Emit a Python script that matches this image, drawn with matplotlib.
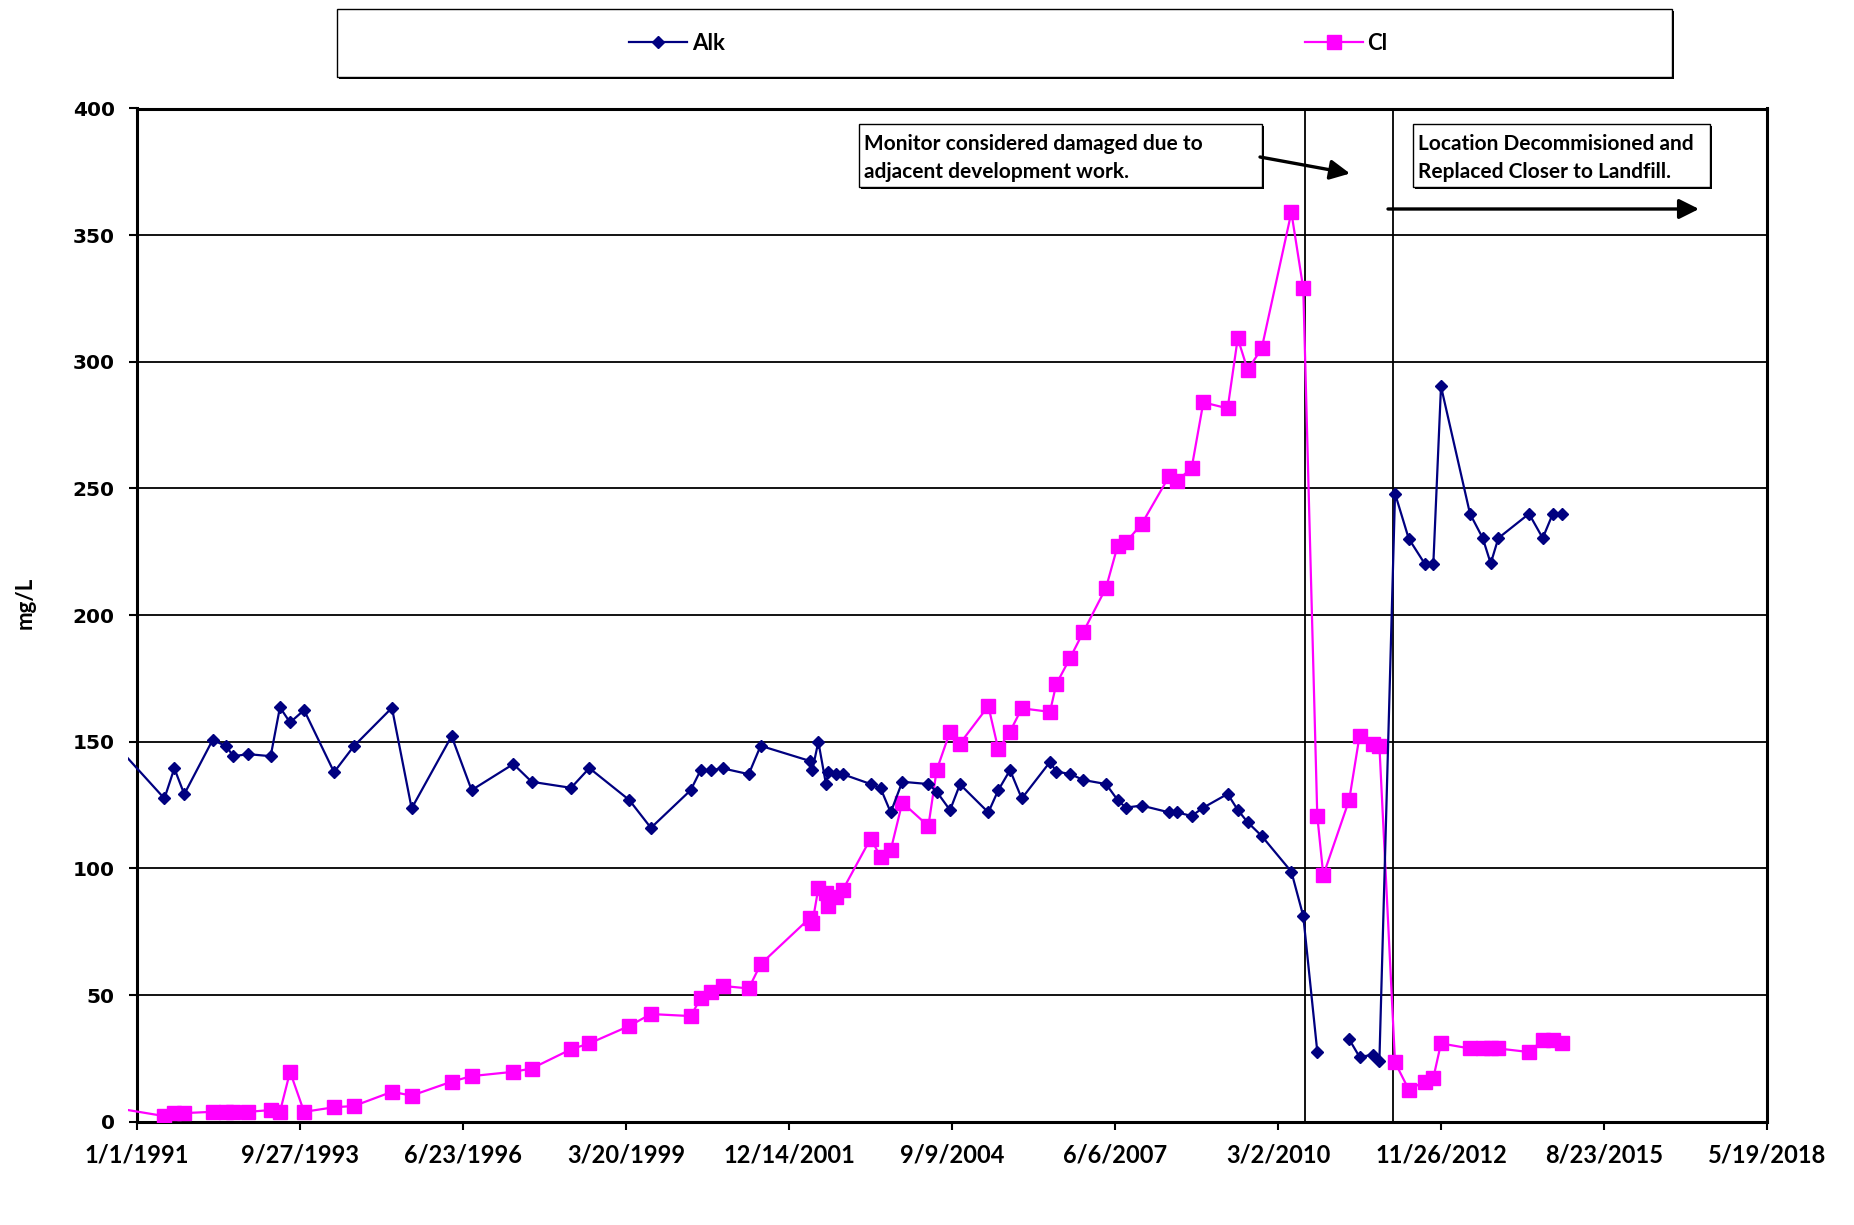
import numpy as np
import matplotlib
matplotlib.use("Agg")
import matplotlib.pyplot as plt
from matplotlib.lines import Line2D
from matplotlib.patches import Rectangle, FancyArrowPatch

# 采样日期: 距 1/1/1991 的天数
sample_day = [-120, 168, 229, 290, 464, 546, 591, 683, 820, 877, 939, 1025,
              1209, 1331, 1564, 1685, 1930, 2053, 2309, 2421, 2663, 2775,
              3020, 3153, 3397, 3458, 3521, 3593, 3753, 3826, 4129, 4143,
              4180, 4227, 4242, 4288, 4329, 4501, 4562, 4624, 4695, 4855,
              4906, 4988, 5049, 5223, 5284, 5356, 5428, 5601, 5640, 5724,
              5806, 5945, 6016, 6066, 6164, 6333, 6382, 6470, 6542, 6691,
              6753, 6814, 6900, 7082, 7155, 7241, 7278, 7437, 7500, 7584,
              7622, 7718, 7802, 7900, 7953, 8000, 8178, 8256, 8305, 8352,
              8540, 8624, 8686, 8741]

alk = [148, 127.6, 139.5, 129.3, 150.7, 148.3, 144.3, 145.1, 144.3, 163.6,
       157.6, 162.5, 138, 148.3, 163.4, 123.7, 152.2, 130.9, 141.2, 134.2,
       131.8, 139.6, 127, 116, 130.9, 138.8, 138.8, 139.5, 137.2, 148.4,
       142.4, 138.8, 150, 133.2, 138.2, 137.2, 137.2, 133.3, 131.6, 122.1,
       134.2, 133.3, 130.3, 123, 133.2, 122.1, 130.9, 138.8, 127.6, 142,
       138.2, 137.3, 134.9, 133.3, 127, 124, 124.8, 122.1, 122.1, 120.7,
       124, 129.4, 123.1, 118.2, 112.8, 98.7, 81.2, 27.7, np.nan, 32.5,
       25.6, 26.4, 24, 248, 230.2, 220.3, 220.3, 290.3, 240, 230.4,
       220.4, 230.4, 240, 230.4, 240, 240]

cl = [5.3, 2.2, 3.4, 3.4, 3.9, 3.9, 3.9, 3.9, 4.6, 3.9,
      19.7, 3.9, 5.7, 6.2, 11.8, 10.3, 15.8, 18, 19.7, 21,
      28.6, 30.9, 37.8, 42.5, 41.7, 48.7, 51.3, 53.6, 52.6, 62.2,
      80.5, 78.3, 92.1, 90.1, 85.1, 88.8, 91.4, 111.8, 104.6, 107.2,
      126, 116.7, 138.8, 154, 149.3, 164.1, 147, 154, 163.2, 161.8,
      172.8, 183, 193.4, 210.8, 227.3, 228.7, 236, 254.9, 253.1, 258,
      284, 281.6, 309.3, 296.8, 305.3, 359, 329, 120.7, 97.3, 127.1,
      152.2, 149, 148.4, 23.4, 12.7, 15.8, 17.3, 30.9, 28.9, 28.9,
      28.9, 28.9, 27.5, 32.2, 32.2, 30.9]

event_day = [7168, 7704]
note_1 = ["Monitor considered damaged due to", "adjacent development work."]
note_2 = ["Location Decommisioned and", "Replaced Closer to Landfill."]

W, H = 1854, 1225


def fx(px):
    return px / W


def fy(py):
    return 1 - py / H


def main():
    plt.rcParams['font.family'] = ['Lato', 'DejaVu Sans']
    plt.rcParams['font.weight'] = 'bold'

    base = np.datetime64('1991-01-01')
    dates = base + np.array(sample_day).astype('timedelta64[D]')

    fig = plt.figure(figsize=(W / 100, H / 100), dpi=100)
    ax = fig.add_axes([fx(137), fy(1121.7), fx(1767) - fx(137), fy(108.5) - fy(1121.7)])

    # 左边稍微出界一点, 和原图一样
    clip = Rectangle((-9 / 1630, 0), 1 + 9 / 1630, 1, transform=ax.transAxes)
    l1, = ax.plot(dates, alk, color='#000080', lw=1.6, marker='D', ms=6.3,
                  mec='#000080', label='Alk', zorder=4)
    l2, = ax.plot(dates, cl, color='#FF00FF', lw=1.6, marker='s', ms=9.5,
                  mec='#FF00FF', label='Cl', zorder=3)
    for ln in (l1, l2):
        ln.set_clip_path(clip)

    for d in event_day:
        ax.axvline(base + np.timedelta64(d, 'D'), color='black', lw=1.3, zorder=2)

    ax.set_ylim(0, 400)
    ax.set_yticks(np.arange(0, 401, 50))
    ax.set_xlim(base, base + np.timedelta64(10000, 'D'))
    xt = base + np.arange(0, 10001, 1000).astype('timedelta64[D]')
    ax.set_xticks(xt)
    ax.set_xticklabels([f"{d.month}/{d.day}/{d.year}" for d in xt.astype(object)])
    for lab in ax.get_yticklabels():
        lab.set_family('DejaVu Sans')

    ax.yaxis.grid(True, color='black', lw=1.3)
    ax.set_axisbelow(True)
    for s in ax.spines.values():
        s.set_linewidth(2.2)
        s.set_color('black')
    ax.tick_params(axis='y', direction='out', length=6, width=1.5, pad=10, labelsize=14.5)
    ax.tick_params(axis='x', direction='out', length=6, width=1.5, pad=10, labelsize=17)

    fig.text(fx(25), fy(603), 'mg/L', rotation=90, ha='center', va='center', fontsize=16)

    # 图例框 (带阴影)
    fig.add_artist(Rectangle((fx(339), fy(79)), fx(1674) - fx(339), fy(11) - fy(79),
                             transform=fig.transFigure, facecolor='black', edgecolor='none'))
    fig.add_artist(Rectangle((fx(337), fy(77)), fx(1672) - fx(337), fy(9) - fy(77),
                             transform=fig.transFigure, facecolor='white', edgecolor='black', lw=1))
    for ln, cx in ((l1, 677), (l2, 1346)):
        h = Line2D([], [], color=ln.get_color(), lw=1.6, marker=ln.get_marker(),
                   ms=ln.get_markersize(), mec=ln.get_color())
        fig.legend(handles=[h], labels=[ln.get_label()], loc='center',
                   bbox_to_anchor=(fx(cx), fy(43)), frameon=False, fontsize=16,
                   handlelength=2.6, handletextpad=0.2, numpoints=1)

    # 注释框
    for (x0, x1, lines) in ((859, 1262, note_1), (1413, 1710, note_2)):
        fig.add_artist(Rectangle((fx(x0 + 2), fy(189)), fx(x1) - fx(x0), fy(126) - fy(189),
                                 transform=fig.transFigure, facecolor='black', edgecolor='none'))
        fig.add_artist(Rectangle((fx(x0), fy(187)), fx(x1) - fx(x0), fy(124) - fy(187),
                                 transform=fig.transFigure, facecolor='white', edgecolor='black', lw=1))
        for i, t in enumerate(lines):
            fig.text(fx(x0 + 5), fy(150 + 27.7 * i), t, ha='left', va='baseline', fontsize=15)

    for p0, p1 in (((1260, 157), (1350, 173.5)), ((1388, 209), (1699, 209))):
        fig.add_artist(FancyArrowPatch((fx(p0[0]), fy(p0[1])), (fx(p1[0]), fy(p1[1])),
                                       transform=fig.transFigure,
                                       arrowstyle='-|>,head_length=0.6,head_width=0.3',
                                       mutation_scale=20, lw=2.4, color='black',
                                       shrinkA=0, shrinkB=0))

    fig.savefig('out.png', dpi=100)


if __name__ == "__main__":
    main()
